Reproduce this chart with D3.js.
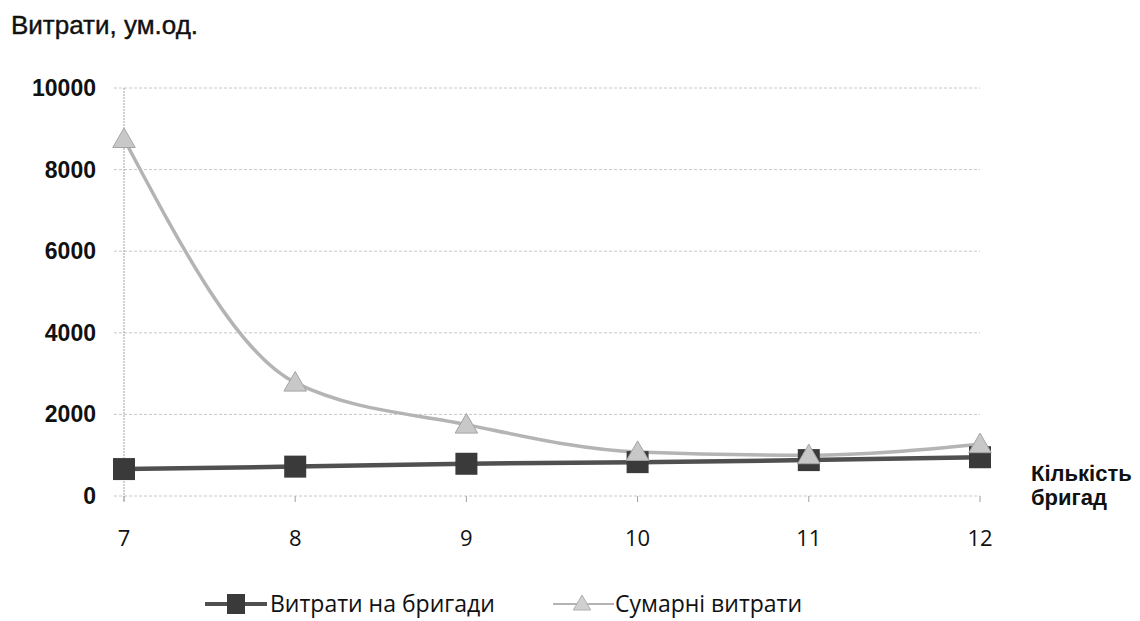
<!DOCTYPE html>
<html>
<head>
<meta charset="utf-8">
<script src="https://cdn.jsdelivr.net/npm/d3@7"></script>
<style>
  body { margin: 0; background: #fff; }
  svg { display: block; }
</style>
</head>
<body>
<div id="chart"></div>
<script>
// brigades count on x axis
var brigades = [7, 8, 9, 10, 11, 12];
// "Витрати на бригади"
var brigadeCosts = [660, 720, 790, 830, 880, 950];
// "Сумарні витрати"
var totalCosts = [8750, 2780, 1750, 1080, 1000, 1270];
var yTicks = [0, 2000, 4000, 6000, 8000, 10000];
var seriesNames = ["Витрати на бригади", "Сумарні витрати"];

var width = 1140, height = 621;
var svg = d3.select("#chart").append("svg")
    .attr("width", width)
    .attr("height", height);

var x = d3.scaleLinear().domain([7, 12]).range([124, 980]);
var y = d3.scaleLinear().domain([0, 10000]).range([496, 88]);

// gridlines
svg.append("g")
    .selectAll("line")
    .data(yTicks)
    .enter()
    .append("line")
        .attr("x1", 114)
        .attr("x2", 980)
        .attr("y1", function(d) { return y(d); })
        .attr("y2", function(d) { return y(d); })
        .attr("stroke", "#c8c8c8")
        .attr("stroke-width", 1)
        .attr("stroke-dasharray", "3,2");

// y axis line
svg.append("line")
    .attr("x1", 124).attr("x2", 124)
    .attr("y1", y(10000)).attr("y2", y(0) + 6)
    .attr("stroke", "#a0a0a0")
    .attr("stroke-dasharray", "2,1");

// x ticks
svg.append("g")
    .selectAll("line")
    .data(brigades)
    .enter()
    .append("line")
        .attr("x1", function(d) { return x(d); })
        .attr("x2", function(d) { return x(d); })
        .attr("y1", y(0))
        .attr("y2", y(0) + 6)
        .attr("stroke", "#a0a0a0");

// y tick labels
svg.append("g")
    .selectAll("text")
    .data(yTicks)
    .enter()
    .append("text")
        .attr("x", 96)
        .attr("y", function(d) { return y(d) + 8; })
        .attr("text-anchor", "end")
        .attr("font-family", "Liberation Sans, Arial, sans-serif")
        .attr("font-size", 23)
        .attr("font-weight", "bold")
        .attr("fill", "#111")
        .text(function(d) { return d; });

// x tick labels
svg.append("g")
    .selectAll("text")
    .data(brigades)
    .enter()
    .append("text")
        .attr("x", function(d) { return x(d); })
        .attr("y", 546)
        .attr("text-anchor", "middle")
        .attr("font-family", "Open Sans, sans-serif")
        .attr("font-size", 22)
        .attr("fill", "#111")
        .text(function(d) { return d; });

// axis titles
svg.append("text")
    .attr("x", 11).attr("y", 34)
    .attr("font-family", "Liberation Sans, Arial, sans-serif")
    .attr("font-size", 26)
    .attr("fill", "#111")
    .attr("stroke", "#111")
    .attr("stroke-width", 0.4)
    .text("Витрати, ум.од.");

var xTitle = svg.append("text")
    .attr("font-family", "Liberation Sans, Arial, sans-serif")
    .attr("font-size", 22)
    .attr("font-weight", "bold")
    .attr("fill", "#111");
xTitle.append("tspan").attr("x", 1031).attr("y", 481).text("Кількість");
xTitle.append("tspan").attr("x", 1031).attr("y", 505).text("бригад");

var line = d3.line()
    .x(function(d) { return x(d[0]); })
    .y(function(d) { return y(d[1]); });

var lightData = brigades.map(function(b, i) { return [b, totalCosts[i]]; });
var darkData = brigades.map(function(b, i) { return [b, brigadeCosts[i]]; });

var lightColor = "#b4b4b4", darkColor = "#505050";
var tri = d3.symbol().type(d3.symbolTriangle).size(220);

// total costs (light, smooth curve)
svg.append("path")
    .datum(lightData)
    .attr("d", d3.line()
        .x(function(d) { return x(d[0]); })
        .y(function(d) { return y(d[1]); })
        .curve(d3.curveMonotoneX))
    .attr("fill", "none")
    .attr("stroke", lightColor)
    .attr("stroke-width", 3.5);

// brigade costs (dark)
svg.append("path")
    .datum(darkData)
    .attr("d", line)
    .attr("fill", "none")
    .attr("stroke", darkColor)
    .attr("stroke-width", 4.5);

svg.append("g")
    .selectAll("rect")
    .data(darkData)
    .enter()
    .append("rect")
        .attr("x", function(d) { return x(d[0]) - 11; })
        .attr("y", function(d) { return y(d[1]) - 11; })
        .attr("width", 22)
        .attr("height", 22)
        .attr("fill", "#3a3a3a");

svg.append("g")
    .selectAll("path")
    .data(lightData)
    .enter()
    .append("path")
        .attr("d", tri)
        .attr("transform", function(d) { return "translate(" + x(d[0]) + "," + (y(d[1]) + 2) + ")"; })
        .attr("fill", "#c8c8c8")
        .attr("stroke", "#a4a4a4")
        .attr("stroke-width", 1);

// legend
var legend = svg.append("g")
    .attr("font-family", "Open Sans, sans-serif")
    .attr("font-size", 23)
    .attr("fill", "#111");
legend.append("line").attr("x1", 205).attr("x2", 267).attr("y1", 604).attr("y2", 604)
    .attr("stroke", darkColor).attr("stroke-width", 4);
legend.append("rect").attr("x", 227).attr("y", 594).attr("width", 18).attr("height", 20).attr("fill", "#3a3a3a");
legend.append("text").attr("x", 270).attr("y", 612).text(seriesNames[0]);

legend.append("line").attr("x1", 553).attr("x2", 614).attr("y1", 604).attr("y2", 604)
    .attr("stroke", lightColor).attr("stroke-width", 2);
legend.append("path").attr("d", d3.symbol().type(d3.symbolTriangle).size(130))
    .attr("transform", "translate(582,605)")
    .attr("fill", "#d0d0d0").attr("stroke", "#b0b0b0");
legend.append("text").attr("x", 615).attr("y", 612).text(seriesNames[1]);
</script>
</body>
</html>
